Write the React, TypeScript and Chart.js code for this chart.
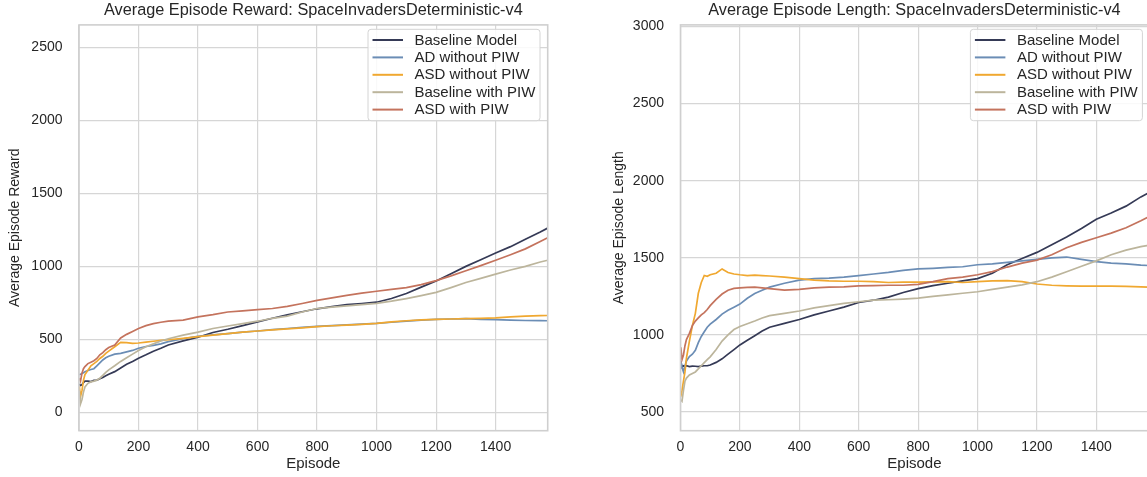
import { useEffect, useRef } from "react";
import { Chart, registerables } from "chart.js";

Chart.register(...registerables);

const FONT = '"Liberation Sans", Arial, Helvetica, sans-serif';
const TEXT_COLOR = "#262626";

// Episode positions shared by every curve
const episodes = [
  1, 5, 10, 15, 20, 30, 40, 50, 60, 70, 80, 90, 100, 120, 140, 160, 180, 200, 225, 250, 275, 300,
  350, 400, 450, 500, 550, 600, 650, 700, 750, 800, 850, 900, 950, 1000, 1050, 1100, 1150, 1200,
  1250, 1300, 1350, 1400, 1450, 1500, 1550, 1575,
];

const seriesNames = ["Baseline Model", "AD without PIW", "ASD without PIW", "Baseline with PIW", "ASD with PIW"];
const seriesColors = ["#353a56", "#6b8db5", "#f0a830", "#bcb59c", "#c4735d"];

// Average episode reward
const rewardBaseline = [
  195, 185, 190, 205, 215, 215, 212, 220, 222, 232, 240, 252, 262, 280, 305, 330, 350, 372, 395, 420, 440, 462,
  490, 515, 548, 570, 595, 620, 645, 668, 690, 710, 725, 738, 746, 755, 780, 815, 858, 900,
  950, 1000, 1045, 1092, 1135, 1185, 1235, 1262,
];
const rewardAdNoPiw = [
  260, 262, 268, 272, 280, 288, 295, 300, 320, 340, 360, 375, 385, 400, 405, 415, 425, 440, 452, 460, 470, 485,
  505, 522, 532, 540, 550, 558, 568, 575, 583, 590, 595, 600, 605, 610, 618, 625, 632, 638,
  640, 642, 638, 636, 632, 630, 629, 628,
];
const rewardAsdNoPiw = [
  180, 110, 150, 220, 260, 290, 320, 335, 350, 370, 385, 405, 420, 450, 480, 478, 474, 476, 482, 488, 494, 498,
  508, 520, 530, 540, 550, 558, 566, 572, 580, 588, 594, 598, 604, 610, 620, 628, 634, 638,
  640, 643, 645, 648, 655, 660, 663, 664,
];
const rewardBaselinePiw = [
  150, 60, 90, 140, 175, 200, 210, 215, 222, 235, 255, 275, 292, 320, 350, 375, 400, 425, 450, 470, 490, 505,
  530, 550, 575, 592, 608, 625, 645, 660, 688, 712, 722, 730, 738, 747, 762, 780, 800, 822,
  855, 890, 918, 947, 975, 1000, 1030, 1042,
];
const rewardAsdPiw = [
  235, 215, 270, 300, 315, 335, 345, 355, 370, 395, 410, 430, 445, 462, 510, 535, 555, 575, 595, 608, 618, 625,
  632, 655, 670, 688, 696, 704, 712, 726, 746, 768, 785, 802, 817, 830, 843, 855, 875, 903,
  935, 970, 1005, 1042, 1080, 1120, 1170, 1196,
];

// Average episode length
const lengthBaseline = [
  830, 790, 800, 795, 800, 795, 798, 797, 795, 798, 800, 800, 805, 822, 845, 875, 905, 935, 965, 995, 1025, 1050,
  1075, 1100, 1130, 1155, 1180, 1210, 1225, 1245, 1275, 1300, 1320, 1335, 1350, 1365, 1400, 1455, 1495, 1535,
  1585, 1635, 1690, 1750, 1790, 1835, 1895, 1920,
];
const lengthAdNoPiw = [
  830, 790, 760, 800, 830, 860, 875, 900, 950, 990, 1020, 1050, 1070, 1100, 1135, 1160, 1180, 1200, 1238, 1268, 1290, 1310,
  1335, 1355, 1365, 1368, 1375, 1385, 1395, 1405, 1418, 1428, 1432, 1438, 1442, 1455, 1460, 1470, 1480, 1490,
  1500, 1505, 1490, 1475, 1465, 1460, 1452, 1450,
];
const lengthAsdNoPiw = [
  600, 640, 700, 760, 850, 960, 1060, 1140, 1270, 1340, 1385, 1380, 1390, 1400, 1428, 1405, 1395, 1390, 1385, 1388, 1385, 1382,
  1375, 1365, 1355, 1350, 1348, 1348, 1345, 1340, 1342, 1342, 1344, 1345, 1340, 1345, 1350, 1352, 1345, 1330,
  1322, 1318, 1316, 1316, 1316, 1315, 1312, 1310,
];
const lengthBaselinePiw = [
  580, 570, 640, 700, 720, 740, 750, 760, 780, 800, 820, 840, 858, 905, 960, 1000, 1035, 1055, 1072, 1090, 1110, 1125,
  1140, 1155, 1175, 1190, 1205, 1215, 1225, 1228, 1232, 1238, 1250, 1260, 1270, 1280, 1295, 1310, 1325, 1345,
  1375, 1410, 1445, 1480, 1520, 1550, 1572, 1580,
];
const lengthAsdPiw = [
  920, 840, 870, 930, 970, 1010, 1060, 1090, 1110, 1130, 1145, 1165, 1190, 1230, 1265, 1290, 1302, 1305, 1308, 1310, 1305, 1300,
  1290, 1295, 1305, 1310, 1312, 1318, 1320, 1322, 1322, 1328, 1345, 1365, 1375, 1390, 1410, 1440, 1465, 1485,
  1520, 1565, 1600, 1630, 1660, 1695, 1740, 1765,
];

// Axis ticks
const episodeTicks = [0, 200, 400, 600, 800, 1000, 1200, 1400];
const rewardTicks = [0, 500, 1000, 1500, 2000, 2500];
const lengthTicks = [500, 1000, 1500, 2000, 2500, 3000];

type PanelProps = {
  left: number;
  width: number;
  title: string;
  yLabel: string;
  values: number[][];
  yMin: number;
  yMax: number;
  yTicks: number[];
  yAxisWidth: number;
  yTitlePad: number;
  padRight: number;
  padTop: number;
  legendX: number;
};

const HEIGHT = 477;
const X_AXIS_HEIGHT = 46.3;

function Panel(p: PanelProps) {
  const ref = useRef<HTMLCanvasElement | null>(null);

  useEffect(() => {
    const canvas = ref.current;
    if (!canvas) return;

    const decor = {
      id: "panelDecor",
      afterDraw(chart: Chart) {
        const { ctx, chartArea } = chart;
        const { left, right, top, bottom } = chartArea;
        ctx.save();
        // frame around the plotting area
        ctx.strokeStyle = "#cfcfcf";
        ctx.lineWidth = 1.6;
        ctx.strokeRect(left, top, right - left, bottom - top);

        // panel title
        ctx.fillStyle = TEXT_COLOR;
        ctx.font = `16.3px ${FONT}`;
        ctx.textAlign = "center";
        ctx.textBaseline = "middle";
        ctx.fillText(p.title, (left + right) / 2, 10.5);

        // legend
        const bx = p.legendX;
        const by = 29.3;
        const bw = 172;
        const bh = 91.4;
        ctx.beginPath();
        ctx.roundRect(bx, by, bw, bh, 3);
        ctx.fillStyle = "rgba(255,255,255,0.85)";
        ctx.fill();
        ctx.strokeStyle = "#d4d4d4";
        ctx.lineWidth = 1;
        ctx.stroke();
        ctx.font = `15px ${FONT}`;
        ctx.textAlign = "left";
        seriesNames.forEach((name, i) => {
          const ry = by + 10.7 + i * 17.4;
          ctx.strokeStyle = seriesColors[i];
          ctx.lineWidth = 2;
          ctx.beginPath();
          ctx.moveTo(bx + 4.5, ry);
          ctx.lineTo(bx + 35, ry);
          ctx.stroke();
          ctx.fillStyle = TEXT_COLOR;
          ctx.fillText(name, bx + 46.5, ry + 0.5);
        });
        ctx.restore();
      },
    };

    const chart = new Chart(canvas, {
      type: "line",
      data: {
        datasets: p.values.map((vals, i) => ({
          label: seriesNames[i],
          data: episodes.map((e, j) => ({ x: e, y: vals[j] })),
          borderColor: seriesColors[i],
          backgroundColor: seriesColors[i],
          borderWidth: 1.7,
          pointRadius: 0,
          tension: 0,
          order: p.values.length - i,
        })),
      },
      options: {
        responsive: false,
        animation: false,
        devicePixelRatio: 1,
        layout: { padding: { left: 0, top: p.padTop, right: p.padRight, bottom: 0 } },
        plugins: {
          legend: { display: false },
          title: { display: false },
          tooltip: { enabled: false },
        },
        scales: {
          x: {
            type: "linear",
            min: 0,
            max: 1575,
            afterBuildTicks: (s: any) => {
              s.ticks = episodeTicks.map((v) => ({ value: v }));
            },
            afterFit: (s: any) => {
              s.height = X_AXIS_HEIGHT;
            },
            grid: { color: "#d6d6d6", lineWidth: 1.2, drawTicks: false },
            border: { display: false },
            ticks: {
              padding: 8,
              color: TEXT_COLOR,
              font: { family: FONT, size: 14 },
              maxRotation: 0,
              callback: (v: any) => String(v),
            },
            title: {
              display: true,
              text: "Episode",
              color: TEXT_COLOR,
              font: { family: FONT, size: 15 },
              padding: { top: 0, bottom: 4 },
            },
          },
          y: {
            type: "linear",
            min: p.yMin,
            max: p.yMax,
            afterBuildTicks: (s: any) => {
              s.ticks = p.yTicks.map((v) => ({ value: v }));
            },
            afterFit: (s: any) => {
              s.width = p.yAxisWidth;
            },
            grid: { color: "#d6d6d6", lineWidth: 1.2, drawTicks: false },
            border: { display: false },
            ticks: {
              padding: 16.5,
              color: TEXT_COLOR,
              font: { family: FONT, size: 14 },
              callback: (v: any) => String(v),
            },
            title: {
              display: true,
              text: p.yLabel,
              color: TEXT_COLOR,
              font: { family: FONT, size: 14 },
              padding: { top: p.yTitlePad, bottom: 0 },
            },
          },
        },
      },
      plugins: [decor],
    } as any);

    return () => chart.destroy();
  }, []);

  return (
    <canvas
      ref={ref}
      width={p.width}
      height={HEIGHT}
      style={{ position: "absolute", left: p.left, top: 0, width: p.width, height: HEIGHT }}
    />
  );
}

export default function App() {
  return (
    <div
      style={{
        position: "absolute",
        left: 0,
        top: 0,
        width: 1147,
        height: HEIGHT,
        overflow: "hidden",
        background: "#ffffff",
      }}
    >
      <Panel
        left={0}
        width={573}
        title="Average Episode Reward: SpaceInvadersDeterministic-v4"
        yLabel="Average Episode Reward"
        values={[rewardBaseline, rewardAdNoPiw, rewardAsdNoPiw, rewardBaselinePiw, rewardAsdPiw]}
        yMin={-124}
        yMax={2652}
        yTicks={rewardTicks}
        yAxisWidth={79}
        yTitlePad={7}
        padRight={25.3}
        padTop={22.7}
        legendX={368}
      />
      <Panel
        left={573}
        width={577}
        title="Average Episode Length: SpaceInvadersDeterministic-v4"
        yLabel="Average Episode Length"
        values={[lengthBaseline, lengthAdNoPiw, lengthAsdNoPiw, lengthBaselinePiw, lengthAsdPiw]}
        yMin={379}
        yMax={3010}
        yTicks={lengthTicks}
        yAxisWidth={107.5}
        yTitlePad={37.6}
        padRight={1.7}
        padTop={23.3}
        legendX={397.4}
      />
    </div>
  );
}
